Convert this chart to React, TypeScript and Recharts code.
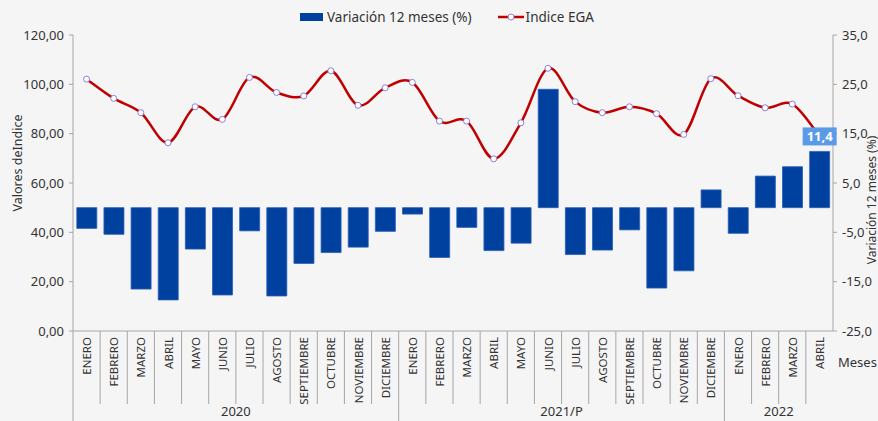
import { Bar, ComposedChart, LabelList, Line, XAxis, YAxis } from 'recharts'

const mesesAnio = ['ENERO', 'FEBRERO', 'MARZO', 'ABRIL', 'MAYO', 'JUNIO', 'JULIO', 'AGOSTO', 'SEPTIEMBRE', 'OCTUBRE', 'NOVIEMBRE', 'DICIEMBRE']
const anios = ['2020', '2021/P', '2022']
const mesesPorAnio = [12, 12, 4]

const indice = [102.1, 94.3, 88.5, 76.3, 90.9, 85.8, 102.8, 96.7, 95.3, 105.5, 91.5, 98.6, 100.8, 85.1, 85.1, 69.8, 84.4, 106.5, 93.0, 88.5, 90.9, 88.1, 79.7, 102.3, 95.4, 90.5, 92.0, 79.0]
const variacion = [-4.2, -5.4, -16.5, -18.7, -8.4, -17.7, -4.7, -17.9, -11.3, -9.1, -8.0, -4.8, -1.3, -10.1, -4.0, -8.7, -7.2, 24.0, -9.5, -8.6, -4.5, -16.3, -12.8, 3.6, -5.2, 6.4, 8.3, 11.4]

const ticksIzq = [0, 20, 40, 60, 80, 100, 120]
const ticksDer = [-25, -15, -5, 5, 15, 25, 35]

const data = anios.flatMap((anio, a) =>
  mesesAnio.slice(0, mesesPorAnio[a]).map((mes, m) => ({ anio, mes, inicio: m === 0 }))
).map((r, i) => ({ ...r, indice: indice[i], variacion: variacion[i] }))

const W = 878
const H = 421
const LEFT = 73
const RIGHT_W = 45
const TOP = 35
const AXIS_Y = 331
const BAND = (W - LEFT - RIGHT_W) / data.length
const GRIS = '#a6a6a6'
const TEXTO = '#333'

// tipo de curva suavizada como la de Excel (catmull-rom)
function curvaSuave(context: any) {
  let pts: number[][] = []
  return {
    areaStart() {},
    areaEnd() {},
    lineStart() {
      pts = []
    },
    point(x: number, y: number) {
      pts.push([+x, +y])
    },
    lineEnd() {
      if (!pts.length) return
      context.moveTo(pts[0][0], pts[0][1])
      for (let i = 0; i < pts.length - 1; i++) {
        const p0 = pts[i - 1] ?? pts[i]
        const p1 = pts[i]
        const p2 = pts[i + 1]
        const p3 = pts[i + 2] ?? pts[i + 1]
        context.bezierCurveTo(
          p1[0] + (p2[0] - p0[0]) / 6,
          p1[1] + (p2[1] - p0[1]) / 6,
          p2[0] - (p3[0] - p1[0]) / 6,
          p2[1] - (p3[1] - p1[1]) / 6,
          p2[0],
          p2[1]
        )
      }
    },
  }
}

function MesTick(props: any) {
  const { x, index } = props
  const row = data[index]
  if (!row) return null
  const ultimo = index === data.length - 1
  const finGrupo = !ultimo && data[index + 1].anio !== row.anio
  const xr = x + BAND / 2
  const n = data.filter((d) => d.anio === row.anio).length
  return (
    <g>
      <text
        x={x}
        y={AXIS_Y + 6}
        transform={`rotate(-90, ${x}, ${AXIS_Y + 6})`}
        textAnchor="end"
        dominantBaseline="central"
        fontSize={11.5}
        fill={TEXTO}
      >
        {row.mes}
      </text>
      {!ultimo && <line x1={xr} x2={xr} y1={AXIS_Y} y2={finGrupo ? H : 404} stroke={GRIS} />}
      {index === 0 && <line x1={x - BAND / 2} x2={x - BAND / 2} y1={AXIS_Y} y2={H} stroke={GRIS} />}
      {row.inicio && (
        <text x={x - BAND / 2 + (n * BAND) / 2} y={416} textAnchor="middle" fontSize={13} fill={TEXTO}>
          {row.anio}
        </text>
      )}
    </g>
  )
}

function Etiqueta(props: any) {
  const { x, y, width, value, index } = props
  if (index !== data.length - 1) return null
  const cx = x + width / 2
  return (
    <g>
      <rect x={cx - 17} y={y - 24} width={34} height={18} fill="#5b9ae6" />
      <text x={cx} y={y - 15} textAnchor="middle" dominantBaseline="central" fontSize={13} fontWeight="bold" fill="#fff">
        {Number(value).toFixed(1).replace('.', ',')}
      </text>
    </g>
  )
}

export default function App() {
  return (
    <div
      style={{
        position: 'fixed',
        left: 0,
        top: 0,
        width: W,
        height: H,
        background: '#f5f5f5',
        fontFamily: '"Noto Sans", sans-serif',
        color: TEXTO,
      }}
    >
      <div style={{ position: 'absolute', left: 300, top: 8, display: 'flex', alignItems: 'center', fontSize: 13.5, whiteSpace: 'nowrap' }}>
        <span style={{ display: 'inline-block', width: 23, height: 8, background: '#0041a0', marginRight: 4 }} />
        <span>Variación 12 meses (%)</span>
        <svg width={26} height={10} style={{ marginLeft: 26 }}>
          <line x1={0} x2={26} y1={5} y2={5} stroke="#c00000" strokeWidth={2.5} />
          <circle cx={13} cy={5} r={3} fill="#fff" stroke="#8c7fd6" />
        </svg>
        <span style={{ marginLeft: 2 }}>Indice EGA</span>
      </div>
      <ComposedChart width={W} height={H} data={data} margin={{ top: TOP, right: 0, bottom: 0, left: 0 }} barCategoryGap="14%">
        <XAxis
          dataKey="mes"
          height={H - AXIS_Y}
          interval={0}
          tickLine={false}
          stroke={GRIS}
          tick={<MesTick />}
          label={() => (
            <text x={838} y={367} fontSize={13} fill={TEXTO}>
              Meses
            </text>
          )}
        />
        <YAxis
          yAxisId="izq"
          width={LEFT}
          domain={[0, 120]}
          ticks={ticksIzq}
          tickSize={4}
          tickMargin={5}
          stroke={GRIS}
          tick={{ fill: TEXTO, fontSize: 13 }}
          tickFormatter={(v: number) => v.toFixed(2).replace('.', ',')}
          label={() => (
            <text x={17} y={163} transform="rotate(-90, 17, 163)" textAnchor="middle" dominantBaseline="central" fontSize={12.5} fill={TEXTO}>
              Valores deIndice
            </text>
          )}
        />
        <YAxis
          yAxisId="der"
          orientation="right"
          width={RIGHT_W}
          domain={[-25, 35]}
          ticks={ticksDer}
          tickSize={4}
          tickMargin={5}
          stroke={GRIS}
          tick={{ fill: TEXTO, fontSize: 13 }}
          tickFormatter={(v: number) => v.toFixed(1).replace('.', ',')}
          label={() => (
            <text x={871} y={200} transform="rotate(-90, 871, 200)" textAnchor="middle" dominantBaseline="central" fontSize={12} fill={TEXTO}>
              Variación 12 meses (%)
            </text>
          )}
        />
        <Line
          yAxisId="izq"
          dataKey="indice"
          type={curvaSuave as any}
          stroke="#c00000"
          strokeWidth={2.5}
          dot={{ r: 3, fill: '#fff', stroke: '#8c7fd6', strokeWidth: 1 }}
          isAnimationActive={false}
        />
        <Bar yAxisId="der" dataKey="variacion" fill="#0041a0" stroke="#2a5db5" strokeWidth={0.8} isAnimationActive={false}>
          <LabelList dataKey="variacion" content={<Etiqueta />} />
        </Bar>
      </ComposedChart>
    </div>
  )
}
